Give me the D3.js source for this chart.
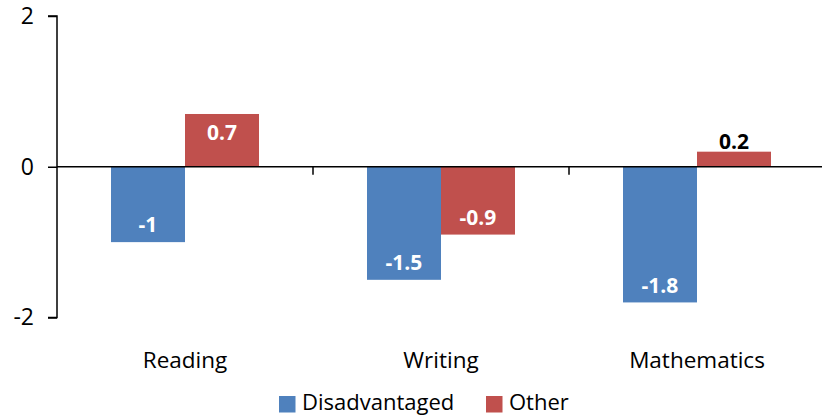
<!DOCTYPE html>
<html>
<head>
<meta charset="utf-8">
<script src="https://cdn.jsdelivr.net/npm/d3@7"></script>
<style>
  body { margin: 0; background: #fff; }
  svg text { font-family: "Open Sans", "Noto Sans", sans-serif; }
</style>
</head>
<body>
<svg id="chart" width="822" height="418"></svg>
<script>
var width = 822;
var height = 418;

// data
var categories = ["Reading", "Writing", "Mathematics"];
var seriesNames = ["Disadvantaged", "Other"];
var disadvantaged = [-1, -1.5, -1.8];
var other = [0.7, -0.9, 0.2];
var yTicks = [-2, 0, 2];
var colors = ["#4f81bd", "#c0504d"];

var rows = categories.map(function(c, i) {
  return {cat: c, values: [disadvantaged[i], other[i]]};
});

var svg = d3.select("#chart");

var x = d3.scaleBand()
  .domain(categories)
  .range([57, 825])
  .paddingInner(0)
  .paddingOuter(0);

var x1 = d3.scaleBand()
  .domain(seriesNames)
  .range([54, x.bandwidth() - 54]);

var y = d3.scaleLinear()
  .domain([-2, 2])
  .range([317.5, 16]);

//bars
var g = svg.append("g");
rows.forEach(function(r) {
  r.values.forEach(function(v, j) {
    var bx = x(r.cat) + x1(seriesNames[j]);
    g.append("rect")
      .attr("x", bx)
      .attr("y", Math.min(y(v), y(0)))
      .attr("width", x1.bandwidth())
      .attr("height", Math.abs(y(v) - y(0)))
      .attr("fill", colors[j]);

    // value labels
    var h = Math.abs(y(v) - y(0));
    var inside = h > 25;
    var ty;
    if (inside) {
      ty = v < 0 ? y(v) - 17 : y(v) + 19;
    } else {
      ty = y(v) - 10;
    }
    g.append("text")
      .attr("x", bx + x1.bandwidth() / 2)
      .attr("y", ty)
      .attr("dy", "0.35em")
      .attr("text-anchor", "middle")
      .attr("font-size", 21)
      .attr("font-weight", "bold")
      .attr("fill", inside ? "#fff" : "#000")
      .text(v);
  });
});

// y axis
var yAxis = d3.axisLeft(y).tickValues(yTicks).tickSize(9).tickPadding(14)
  .tickFormat(function(d) { return String(d); });
var ya = svg.append("g").attr("transform", "translate(57,0)").call(yAxis);
ya.select(".domain").attr("d", "M-9," + y(2) + "H0V" + y(-2) + "H-9").attr("stroke", "#000").attr("stroke-width", 1.5);
ya.selectAll(".tick line").attr("stroke", "#000").attr("stroke-width", 1.5);
ya.selectAll(".tick text").attr("font-size", 23).attr("fill", "#000")
  .attr("font-family", "'Open Sans', sans-serif");

// zero line with category ticks
svg.append("line")
  .attr("x1", 57).attr("x2", width)
  .attr("y1", y(0)).attr("y2", y(0))
  .attr("stroke", "#000").attr("stroke-width", 1.5);

svg.selectAll(".ctick")
  .data(categories.slice(1))
  .enter().append("line")
  .attr("x1", function(d) { return x(d); })
  .attr("x2", function(d) { return x(d); })
  .attr("y1", y(0)).attr("y2", y(0) + 8)
  .attr("stroke", "#000").attr("stroke-width", 1.5);

// category labels
svg.selectAll(".clabel")
  .data(categories)
  .enter().append("text")
  .attr("x", function(d) { return x(d) + x.bandwidth() / 2; })
  .attr("y", 360)
  .attr("dy", "0.35em")
  .attr("text-anchor", "middle")
  .attr("font-size", 22.5)
  .attr("fill", "#000")
  .text(function(d) { return d; });

// legend
var legendX = [279, 486];
seriesNames.forEach(function(s, i) {
  svg.append("rect")
    .attr("x", legendX[i]).attr("y", 396)
    .attr("width", 16.5).attr("height", 16.5)
    .attr("fill", colors[i]);
  svg.append("text")
    .attr("x", legendX[i] + 23).attr("y", 402)
    .attr("dy", "0.35em")
    .attr("font-size", 22)
    .attr("fill", "#000")
    .text(s);
});
</script>
</body>
</html>
